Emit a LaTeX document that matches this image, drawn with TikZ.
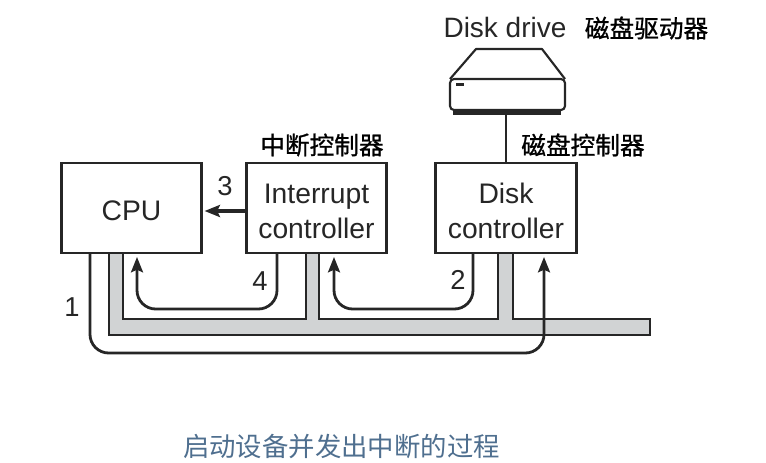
\documentclass[tikz,border=0pt]{standalone}
\usepackage{fontspec}
\setmainfont{Liberation Sans}
\newfontfamily\cjk{Noto Sans CJK SC}
\newfontfamily\cjkmed[FakeBold=.9]{Noto Sans CJK SC}
\usetikzlibrary{arrows.meta}
\definecolor{inkdark}{HTML}{262626}
\definecolor{busgray}{HTML}{D1D3D4}
\definecolor{captionblue}{HTML}{4F6F8F}
\newcommand{\toppad}{\rule{0pt}{19.5pt}}
\tikzset{
  hwbox/.style={draw=inkdark,line width=2.1pt,fill=white,minimum width=105.5pt,minimum height=67.5pt,
    align=center,text=inkdark,font=\fontsize{21.2}{25}\selectfont,inner sep=0pt},
  wire/.style={draw=inkdark,line width=2.1pt,rounded corners=14pt},
  cnlabel/.style={text=black,font=\fontsize{18.5}{22}\selectfont\cjkmed,inner sep=0pt},
  numlabel/.style={text=inkdark,font=\fontsize{20.5}{24}\selectfont,inner sep=0pt},
  tip/.style={-{Stealth[length=11.5pt,width=9pt,inset=2pt]}}
}
\begin{document}
\begin{tikzpicture}[x=.75pt,y=-.75pt]
  \useasboundingbox (0,0) rectangle (766,462);

  % bus
  \draw[draw=inkdark,line width=1.9pt,fill=busgray]
    (109,253) -- (109,335) -- (650,335) -- (650,319) -- (513,319) -- (513,253)
    -- (498,253) -- (498,319) -- (319,319) -- (319,253) -- (306,253) -- (306,319)
    -- (123,319) -- (123,253) -- cycle;

  \node[hwbox] (cpu) at (131.5,208) {\toppad CPU};
  \node[hwbox] (intctl) at (316.5,208) {\toppad Interrupt\\[1.2pt]controller};
  \node[hwbox] (diskctl) at (506,208) {\toppad Disk\\[1.2pt]controller};

  % disk drive
  \draw[inkdark,line width=1.6pt,line join=round] (450,79) -- (476,49) -- (542,49) -- (565,79);
  \fill[inkdark] (453,108) rectangle (561,115);
  \draw[inkdark,line width=1.6pt,fill=white,rounded corners=3pt] (450,79) rectangle (565,110);
  \draw[inkdark,line width=2pt] (456,84.5) -- (464,84.5);
  \coordinate (drive) at (506,115);
  \draw[wire,line width=1.8pt] (drive) -- (drive |- diskctl.north);

  \node[text=inkdark,font=\fontsize{21}{25}\selectfont,inner sep=0pt] (drivetxt) at (505,27) {Disk drive};
  \node[cnlabel] (drivecn) at (646.5,28) {磁盘驱动器};
  \node[cnlabel] (diskcn) at (583,145) {磁盘控制器};
  \node[cnlabel] (intcn) at (322,145) {中断控制器};

  % wires
  \coordinate (w1a) at (90,253);
  \coordinate (w1b) at (90,353);
  \coordinate (w1c) at (544,353);
  \coordinate (w1d) at (544,257);
  \draw[wire,tip] (w1a) -- (w1b) -- (w1c) -- (w1d);

  \coordinate (w2a) at (473,253);
  \coordinate (w2b) at (473,309);
  \coordinate (w2c) at (334,309);
  \coordinate (w2d) at (334,257);
  \draw[wire,tip] (w2a) -- (w2b) -- (w2c) -- (w2d);

  \coordinate (w4a) at (277,253);
  \coordinate (w4b) at (277,309);
  \coordinate (w4c) at (137,309);
  \coordinate (w4d) at (137,257);
  \draw[wire,tip] (w4a) -- (w4b) -- (w4c) -- (w4d);

  \draw[inkdark,line width=2.6pt,tip] ([yshift=-2.25pt]intctl.west) -- ([yshift=-2.25pt,xshift=1pt]cpu.east);

  \node[numlabel] (num1) at (72,307) {1};
  \node[numlabel] (num2) at (458,280) {2};
  \node[numlabel] (num3) at (225,186) {3};
  \node[numlabel] (num4) at (260,281) {4};

  \node[text=captionblue,font=\fontsize{19.8}{24}\selectfont\cjk,inner sep=0pt] (caption) at (341.5,446) {启动设备并发出中断的过程};
\end{tikzpicture}
\end{document}
